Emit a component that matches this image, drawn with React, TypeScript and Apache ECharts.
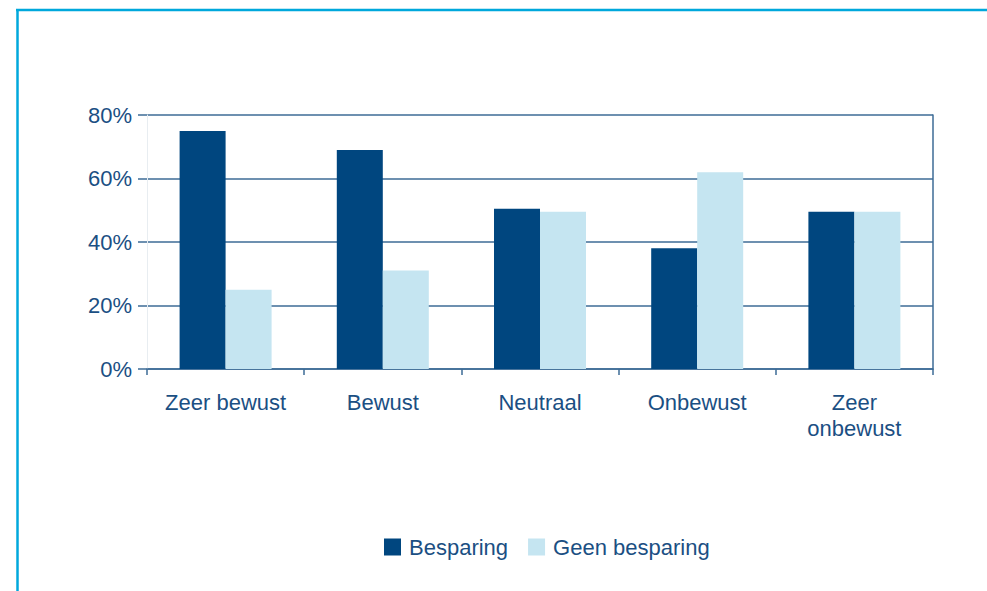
import React, { useEffect, useRef } from "react";
import * as echarts from "echarts";

const categories = ["Zeer bewust", "Bewust", "Neutraal", "Onbewust", "Zeer\nonbewust"];
const besparing = [75, 69, 50.5, 38, 49.5];
const geenBesparing = [25, 31, 49.5, 62, 49.5];
const yTicks = [0, 20, 40, 60, 80];

const TEXT = "#1b4f83";
const GRID = "#3d6b96";
const DARK = "#00467f";
const LIGHT = "#c5e5f1";
const FRAME = "#00a8dc";
const FONT = "'Liberation Sans', Arial, Helvetica, sans-serif";

export default function App() {
  const ref = useRef<HTMLDivElement>(null);
  useEffect(() => {
    if (!ref.current) return;
    const chart = echarts.init(ref.current, undefined, { renderer: "svg" });
    chart.setOption({
      animation: false,
      backgroundColor: "#ffffff",
      textStyle: { fontFamily: FONT },
      graphic: [
        { type: "line", shape: { x1: 16, y1: 10, x2: 987, y2: 10 }, style: { stroke: FRAME, lineWidth: 2.5 } },
        { type: "line", shape: { x1: 17.5, y1: 9, x2: 17.5, y2: 591 }, style: { stroke: FRAME, lineWidth: 2.5 } },
      ],
      grid: { left: 147, right: 54, top: 115, bottom: 222 },
      legend: {
        bottom: 28,
        left: 379,
        itemWidth: 17,
        itemHeight: 17,
        itemGap: 20,
        icon: "rect",
        textStyle: { color: TEXT, fontSize: 22, fontFamily: FONT, padding: [0, 0, 0, 3] },
        data: ["Besparing", "Geen besparing"],
      },
      xAxis: {
        type: "category",
        data: categories,
        axisLine: { show: true, lineStyle: { color: GRID, width: 1.5 } },
        axisTick: { show: true, length: 6, lineStyle: { color: GRID, width: 1.5 } },
        axisLabel: { color: TEXT, fontSize: 22, fontFamily: FONT, margin: 20, lineHeight: 26, interval: 0 },
      },
      yAxis: [
        {
          type: "value",
          min: 0,
          max: 80,
          interval: 20,
          axisLine: { show: true, lineStyle: { color: "#e8edf1", width: 1 } },
          axisTick: { show: true, length: 9, lineStyle: { color: GRID, width: 1.5 } },
          axisLabel: {
            color: TEXT,
            fontSize: 22,
            fontFamily: FONT,
            margin: 15,
            formatter: (v: number) => (yTicks.includes(v) ? v + "%" : ""),
          },
          splitLine: { show: true, lineStyle: { color: GRID, width: 1.5 } },
        },
        {
          type: "value",
          position: "right",
          min: 0,
          max: 80,
          interval: 20,
          axisLine: { show: true, lineStyle: { color: GRID, width: 1.5 } },
          axisTick: { show: false },
          axisLabel: { show: false },
          splitLine: { show: false },
        },
      ],
      series: [
        {
          name: "Besparing",
          type: "bar",
          data: besparing,
          barWidth: 46,
          barGap: "0%",
          itemStyle: { color: DARK },
        },
        {
          name: "Geen besparing",
          type: "bar",
          data: geenBesparing,
          barWidth: 46,
          barGap: "0%",
          itemStyle: { color: LIGHT },
        },
      ],
    });
    return () => chart.dispose();
  }, []);
  return (
    <div
      ref={ref}
      style={{ position: "fixed", left: 0, top: 0, width: 987, height: 591 }}
    />
  );
}
